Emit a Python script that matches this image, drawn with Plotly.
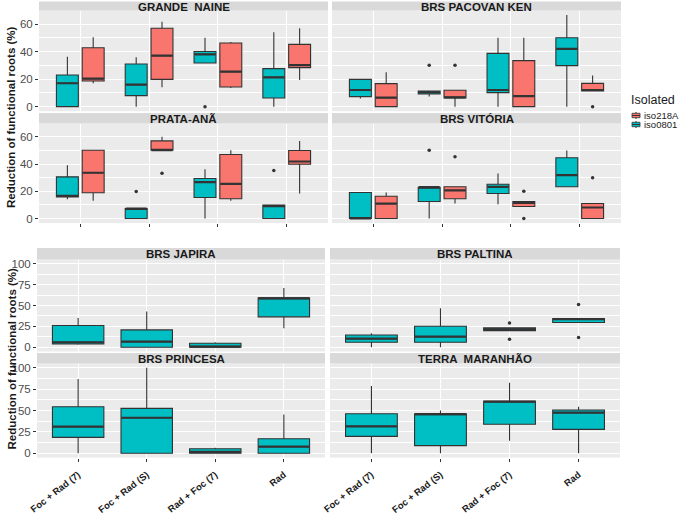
import plotly.graph_objects as go

W, H = 685, 516

CATEGORIES = ["Foc + Rad (7)", "Foc + Rad (S)", "Rad + Foc (7)", "Rad"]
ISOLATES = ["iso218A", "iso0801"]

# box statistics per category: [lower whisker, q1, median, q3, upper whisker]
GRANDE_NAINE_0801 = [[0, 0, 17, 23, 36.3], [0, 8, 16, 31, 35.8], [31.7, 31.7, 38, 40, 50], [0, 6.3, 21.3, 27.6, 54]]
GRANDE_NAINE_218A = [[17, 18.6, 20.3, 42.8, 50.3], [14, 19.8, 37, 56.9, 61.7], [13.5, 14.3, 25.4, 46.2, 47], [19.4, 28.3, 30.2, 45.2, 56.9]]
GRANDE_NAINE_0801_OUT = [(2, 0)]
GRANDE_NAINE_218A_OUT = []

PACOVAN_0801 = [[6, 7.3, 12.1, 19.8, 19.8], [7.3, 9.2, 10.4, 11.4, 11.4], [0, 10.2, 12.1, 38.7, 50], [0, 29.8, 41.9, 50, 66.5]]
PACOVAN_218A = [[0, 0, 6.5, 16.7, 24.9], [0, 6.3, 6.8, 11.9, 11.9], [0, 0, 7.7, 33.4, 50], [11.4, 11.4, 12.1, 16.9, 22.7]]
PACOVAN_0801_OUT = [(1, 30)]
PACOVAN_218A_OUT = [(1, 30), (3, 0)]

PRATA_ANA_0801 = [[14.2, 15.9, 16.7, 30.6, 39.2], [0, 0, 7.3, 7.3, 7.3], [0, 15.4, 26.7, 29.4, 36.2], [0, 0, 9.1, 9.8, 9.8]]
PRATA_ANA_218A = [[13, 18.9, 33.6, 50.2, 50.2], [50.2, 50.2, 50.2, 57, 60], [13, 14.5, 25.5, 47, 50.2], [18.4, 39.9, 41.9, 50, 57]]
PRATA_ANA_0801_OUT = [(1, 19.8), (3, 35.3)]
PRATA_ANA_218A_OUT = [(1, 33.3)]

VITORIA_0801 = [[0, 0, 0, 19.1, 19.1], [0, 12.5, 23, 23, 23], [10.5, 18.4, 23.3, 25.2, 33], [23.3, 23.3, 31.8, 44.6, 50]]
VITORIA_218A = [[0, 0, 11, 16.4, 19.1], [11, 14.5, 20.6, 23.3, 23.3], [8.8, 8.8, 11.5, 12.5, 12.5], [0, 0, 8.1, 11, 11]]
VITORIA_0801_OUT = [(1, 50.2)]
VITORIA_218A_OUT = [(1, 45.3), (2, 20.1), (2, 0), (3, 29.9)]

JAPIRA_0801 = [[3.2, 4, 6, 26, 35.2], [0, 0, 6.8, 20.8, 42.8], [0, 0, 0.8, 4.8, 6], [22.8, 36.4, 58.4, 59.2, 70.8]]
JAPIRA_0801_OUT = []
PALTINA_0801 = [[0, 6, 10.4, 14.8, 16.8], [0, 6, 12.8, 25.2, 46.8], [20, 20, 21.6, 23.2, 23.2], [29.6, 29.6, 33.6, 34.4, 34.4]]
PALTINA_0801_OUT = [(2, 29.2), (2, 9.6), (3, 51.2), (3, 11.6)]
PRINCESA_0801 = [[0, 18.7, 31.1, 54.5, 86.8], [0, 0, 41.6, 52.5, 100], [0, 0, 1.6, 5.4, 6.6], [0, 0, 7.8, 17.1, 45.5]]
PRINCESA_0801_OUT = []
TERRA_0801 = [[0, 19.8, 31.5, 46.3, 78.6], [0, 9, 45.9, 46.3, 50.2], [14.8, 33.9, 60.3, 61.1, 82.5], [0, 28, 47.5, 50.6, 54.5]]
TERRA_0801_OUT = []

TOP_TICKS = [0, 20, 40, 60]
BOTTOM_TICKS = [0, 25, 50, 75, 100]

COL = {"iso218A": "#F8766D", "iso0801": "#00BFC4"}
FONT = "Liberation Sans, Arial, sans-serif"
EDGE = "#333333"

BOXGAP = 0.25        # ggplot default box width 0.75
GROUPGAP = 0.15      # small gap between dodged boxes
XRANGE = [-0.6, 3.6]
LINE_SYMBOL_SCALE = 1.4  # plotly draws 'line-ew' with half-length 0.7 * size

# panel layout (pixels): title, series list, x-domain, strip, plot-y, y-range, ticks, minor step, y labels, x mode
panels = [
    ("GRANDE  NAINE", [("iso0801", GRANDE_NAINE_0801, GRANDE_NAINE_0801_OUT), ("iso218A", GRANDE_NAINE_218A, GRANDE_NAINE_218A_OUT)],
     (39, 328), (1.5, 10.5), (10.5, 111.2), (-3.3, 69.8), TOP_TICKS, 10, True, "none"),
    ("BRS PACOVAN KEN", [("iso0801", PACOVAN_0801, PACOVAN_0801_OUT), ("iso218A", PACOVAN_218A, PACOVAN_218A_OUT)],
     (332, 621), (1.5, 10.5), (10.5, 111.2), (-3.3, 69.8), TOP_TICKS, 10, False, "none"),
    ("PRATA-ANÃ", [("iso0801", PRATA_ANA_0801, PRATA_ANA_0801_OUT), ("iso218A", PRATA_ANA_218A, PRATA_ANA_218A_OUT)],
     (39, 328), (113, 123.5), (123.5, 223), (-3.3, 69.8), TOP_TICKS, 10, True, "ticks"),
    ("BRS VITÓRIA", [("iso0801", VITORIA_0801, VITORIA_0801_OUT), ("iso218A", VITORIA_218A, VITORIA_218A_OUT)],
     (332, 621), (113, 123.5), (123.5, 223), (-3.3, 69.8), TOP_TICKS, 10, False, "ticks"),
    ("BRS JAPIRA", [("iso0801", JAPIRA_0801, JAPIRA_0801_OUT)],
     (37, 325), (248, 259.5), (259.5, 351.5), (-5, 105), BOTTOM_TICKS, 12.5, True, "none"),
    ("BRS PALTINA", [("iso0801", PALTINA_0801, PALTINA_0801_OUT)],
     (330, 620), (248, 259.5), (259.5, 351.5), (-5, 105), BOTTOM_TICKS, 12.5, False, "none"),
    ("BRS PRINCESA", [("iso0801", PRINCESA_0801, PRINCESA_0801_OUT)],
     (37, 325), (353, 363.5), (363.5, 457.6), (-5, 105), BOTTOM_TICKS, 12.5, True, "labels"),
    ("TERRA  MARANHÃO", [("iso0801", TERRA_0801, TERRA_0801_OUT)],
     (330, 620), (353, 363.5), (363.5, 457.6), (-5, 105), BOTTOM_TICKS, 12.5, False, "labels"),
]


def fx(p):
    return p / W


def fy(p):
    return 1 - p / H


fig = go.Figure()
layout = {}
shapes = []
annotations = []
positions = list(range(len(CATEGORIES)))

for i, (title, series, xd, strip, yd, yr, yt, minor, ylab, xmode) in enumerate(panels, start=1):
    xa, ya = f"x{i}", f"y{i}"
    n = len(series)
    px_per_unit = (xd[1] - xd[0]) / (XRANGE[1] - XRANGE[0])
    for k, (iso, stats, outs) in enumerate(series):
        box_kw = {}
        if n == 1:
            box_kw["width"] = 1 - BOXGAP
            bw = 1 - BOXGAP
            off = 0.0
        else:
            bw = (1 - BOXGAP) * (1 - GROUPGAP) / n
            off = (k - (n - 1) / 2) * (1 - BOXGAP) / n
        fig.add_trace(go.Box(
            x=positions,
            lowerfence=[s[0] for s in stats],
            q1=[s[1] for s in stats],
            median=[s[2] for s in stats],
            q3=[s[3] for s in stats],
            upperfence=[s[4] for s in stats],
            fillcolor=COL[iso], line=dict(color=EDGE, width=1.1),
            whiskerwidth=0, boxpoints=False, name=iso, offsetgroup=iso,
            showlegend=False, hoverinfo="skip", xaxis=xa, yaxis=ya, **box_kw,
        ))
        # thicker median bar (ggplot style)
        fig.add_trace(go.Scatter(
            x=[p + off for p in positions], y=[s[2] for s in stats], mode="markers",
            marker=dict(symbol="line-ew", size=(bw * px_per_unit - 1) / LINE_SYMBOL_SCALE,
                        line=dict(color=EDGE, width=2.2)),
            showlegend=False, hoverinfo="skip", xaxis=xa, yaxis=ya,
        ))
        if outs:
            fig.add_trace(go.Scatter(
                x=[c + off for c, _ in outs], y=[v for _, v in outs], mode="markers",
                marker=dict(size=3.5, color=EDGE), showlegend=False, hoverinfo="skip",
                xaxis=xa, yaxis=ya,
            ))
    sfx = "" if i == 1 else str(i)
    layout["xaxis" + sfx] = dict(
        domain=[fx(xd[0]), fx(xd[1])], range=XRANGE, anchor=ya, automargin=False,
        tickvals=positions, ticktext=[f"<b>{c}</b>" for c in CATEGORIES],
        showticklabels=(xmode == "labels"), ticks=("" if xmode == "none" else "outside"),
        ticklen=3, tickcolor=EDGE, tickwidth=1, tickangle=-38, ticklabelstandoff=4,
        tickfont=dict(family=FONT, size=9.5, color="#1A1A1A"),
        showgrid=True, gridcolor="white", gridwidth=1.1, zeroline=False, showline=False,
    )
    layout["yaxis" + sfx] = dict(
        domain=[fy(yd[1]), fy(yd[0])], range=list(yr), anchor=xa, automargin=False,
        tickvals=yt, showticklabels=ylab, ticks=("outside" if ylab else ""),
        ticklen=3, tickcolor=EDGE, tickwidth=1,
        tickfont=dict(family=FONT, size=11.5, color="#4D4D4D"),
        showgrid=True, gridcolor="white", gridwidth=1.1, zeroline=False, showline=False,
        minor=dict(dtick=minor, tick0=0, showgrid=True, gridcolor="white", gridwidth=0.5, ticks=""),
    )
    shapes.append(dict(type="rect", xref="paper", yref="paper",
                       x0=fx(xd[0]), x1=fx(xd[1]), y0=fy(strip[1]), y1=fy(strip[0]),
                       fillcolor="#D9D9D9", line=dict(width=0), layer="below"))
    annotations.append(dict(text=f"<b>{title}</b>", xref="paper", yref="paper",
                            x=fx((xd[0] + xd[1]) / 2), y=fy((strip[0] + strip[1]) / 2 + 0.5),
                            showarrow=False, xanchor="center", yanchor="middle",
                            font=dict(family=FONT, size=11.5, color="#1A1A1A")))

# y-axis titles for the two figures
for yc in (117, 358.5):
    annotations.append(dict(text="<b>Reduction of functional roots (%)</b>", xref="paper", yref="paper",
                            x=fx(11), y=fy(yc), textangle=-90, showarrow=False,
                            xanchor="center", yanchor="middle",
                            font=dict(family=FONT, size=11.5, color="#1A1A1A")))

# legend
annotations.append(dict(text="Isolated", xref="paper", yref="paper", x=fx(629), y=fy(100),
                        showarrow=False, xanchor="left", yanchor="middle",
                        font=dict(family=FONT, size=12.5, color="#1A1A1A")))
for j, iso in enumerate(ISOLATES):
    cy = 115.5 + j * 9
    shapes.append(dict(type="line", xref="paper", yref="paper", x0=fx(636), x1=fx(636),
                       y0=fy(cy - 3.5), y1=fy(cy + 3.5), line=dict(color=EDGE, width=1)))
    shapes.append(dict(type="rect", xref="paper", yref="paper", x0=fx(632), x1=fx(640),
                       y0=fy(cy + 2.2), y1=fy(cy - 2.2), fillcolor=COL[iso], line=dict(color=EDGE, width=0.8)))
    shapes.append(dict(type="line", xref="paper", yref="paper", x0=fx(632), x1=fx(640),
                       y0=fy(cy), y1=fy(cy), line=dict(color=EDGE, width=1)))
    annotations.append(dict(text=iso, xref="paper", yref="paper", x=fx(642), y=fy(cy),
                            showarrow=False, xanchor="left", yanchor="middle",
                            font=dict(family=FONT, size=9.5, color="#1A1A1A")))

fig.update_layout(
    width=W, height=H, margin=dict(l=0, r=0, t=0, b=0, autoexpand=False),
    paper_bgcolor="white", plot_bgcolor="#EBEBEB",
    boxmode="group", boxgap=BOXGAP, boxgroupgap=GROUPGAP,
    showlegend=False, shapes=shapes, annotations=annotations,
    font=dict(family=FONT),
    **layout,
)

fig.write_html(
    "out.html",
    config={"displayModeBar": False},
    post_script="document.body.style.margin='0';document.body.style.overflow='hidden';",
)
